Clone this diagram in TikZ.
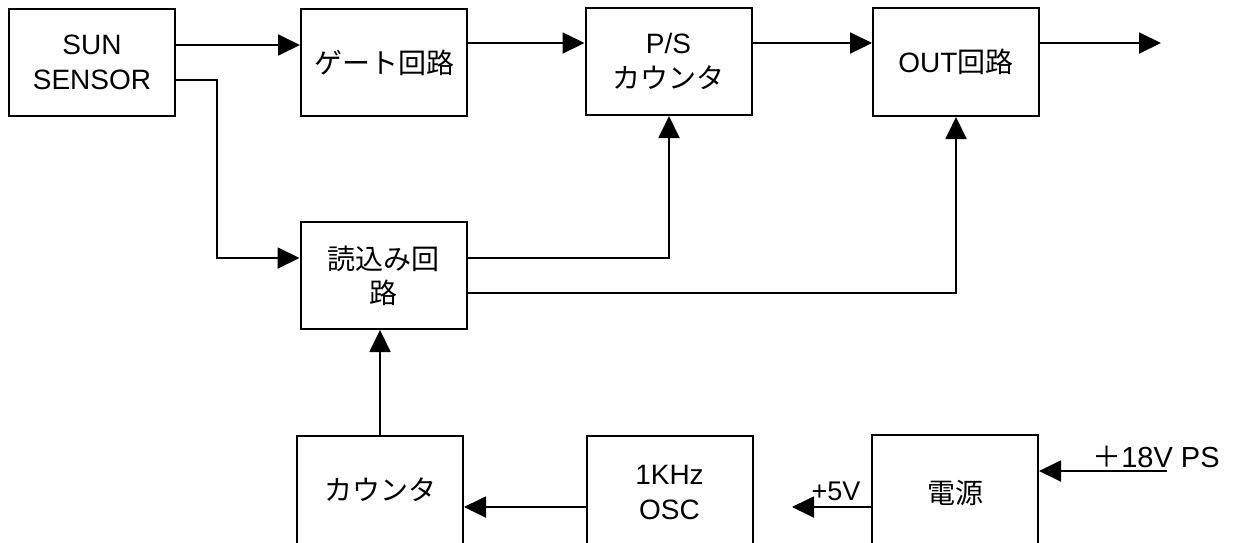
\documentclass[tikz,border=0pt]{standalone}
\usepackage{fontspec}
\setmainfont{Liberation Sans}
\newfontfamily\jp{Noto Sans CJK JP}
\usetikzlibrary{arrows.meta}
\tikzset{
  boxfont/.style={font=\fontsize{28}{35}\selectfont},
  blk/.style={draw, line width=2pt, inner sep=0pt, minimum width=166pt, minimum height=107pt,
    align=center, boxfont},
  arr/.style={line width=1.9pt, -{Triangle[length=22pt,width=21pt]}},
  lbl/.style={font=\fontsize{29}{32}\selectfont, inner sep=0pt, anchor=base}
}
\begin{document}
\begin{tikzpicture}[x=1pt,y=-1pt]
\useasboundingbox[fill=white] (0,0) rectangle (1236,542);
% top row
\node[blk] (sun)  at (92,62.5)   {SUN\\SENSOR};
\node[blk] (gate) at (384,62.5)  {\raisebox{-3pt}{\jp ゲート回路}};
\node[blk] (ps)   at (668.5,61.5) {P/S\\{\jp カウンタ}};
\node[blk, minimum height=108pt] (out) at (956,62) {OUT{\jp 回路}};
% middle
\node[blk] (read) at (383.5,275.5) {\raisebox{-3pt}{\jp 読込み回}\\\raisebox{-2pt}{\jp 路}};
% bottom row
\node[blk, minimum height=112pt] (cnt) at (380,492) {};
\node[blk, minimum height=112pt] (osc) at (669.5,492) {};
\node[blk, minimum height=112pt] (pwr) at (955,491) {};
\node[boxfont, align=center] (cnttxt) at (380,490) {\jp カウンタ};
\node[boxfont, align=center] (osctxt) at (669.5,492) {1KHz\\OSC};
\node[boxfont, align=center] (pwrtxt) at (955,493) {\jp 電源};
% free ends
\coordinate (outend) at (1161,43);
\coordinate (p5end) at (792,507);
\coordinate (p18start) at (1167,471);
% connectors
\draw[arr] ([yshift=17.5pt]sun.east) -- ([yshift=17.5pt]gate.west);
\draw[arr] ([yshift=19.5pt]gate.east) -- ([yshift=18.5pt]ps.west);
\draw[arr] ([yshift=18.5pt]ps.east) -- ([yshift=19pt]out.west);
\draw[arr] ([yshift=19pt]out.east) -- (outend);
\draw[arr] ([yshift=-17.5pt]sun.east) -- ++(41,0) |- ([yshift=17.5pt]read.west);
\draw[arr] ([yshift=17.5pt]read.east) -| ([xshift=0.5pt]ps.south);
\draw[arr] ([yshift=-17.5pt]read.east) -| (out.south);
\draw[arr] (cnt.north) -- (read.south -| cnt.north);
\draw[arr] ([yshift=-15pt]osc.west) -- ([yshift=-15pt]cnt.east);
\draw[arr] ([yshift=-16pt]pwr.west) -- (p5end);
\draw[arr] (p18start) -- ([yshift=20pt]pwr.east);
% labels
\node[lbl, font=\fontsize{27}{30}\selectfont] (l5) at (836,500) {+5V};
\node[lbl] (l18) at (1156,467) {{\jp ＋}18V PS};
\end{tikzpicture}
\end{document}
